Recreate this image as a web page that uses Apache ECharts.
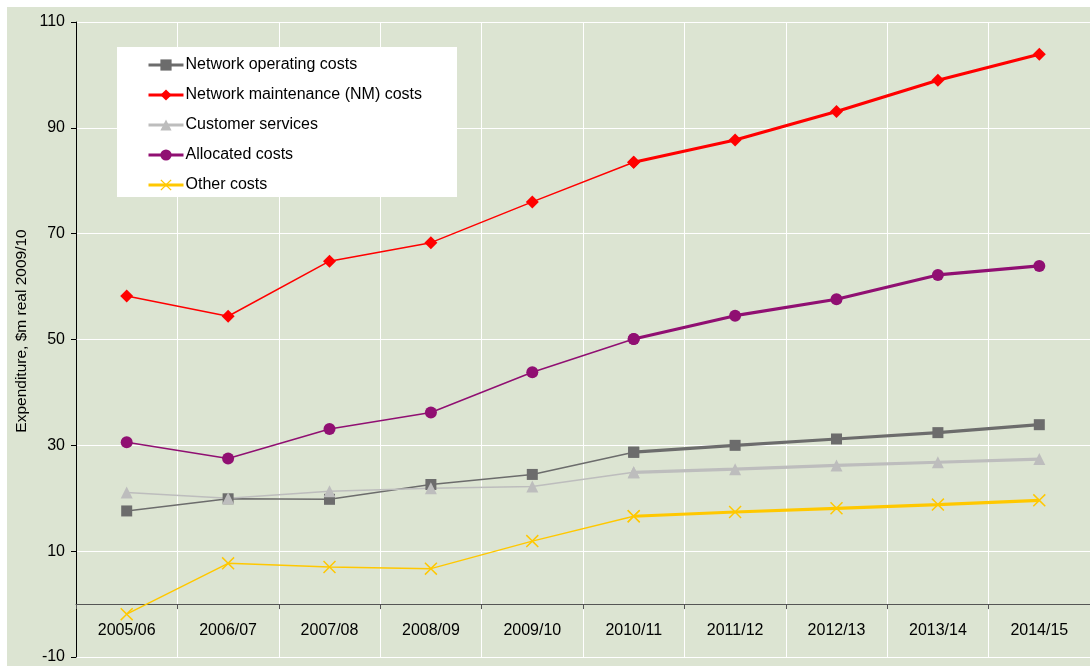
<!DOCTYPE html>
<html>
<head>
<meta charset="utf-8">
<script src="https://cdn.jsdelivr.net/npm/echarts@6/dist/echarts.min.js"></script>
<style>
  html, body { margin: 0; padding: 0; background: #ffffff; }
  #chart { position: absolute; left: 7px; top: 7px; width: 1083px; height: 659px; background: #dce4d2; }
</style>
</head>
<body>
<div id="chart"></div>
<script>
// Financial years on the category axis
const years = ['2005/06', '2006/07', '2007/08', '2008/09', '2009/10',
               '2010/11', '2011/12', '2012/13', '2013/14', '2014/15'];

// Expenditure, $m real 2009/10
const networkOperating   = [17.6, 19.9, 19.8, 22.6, 24.5, 28.7, 30.0, 31.2, 32.4, 33.9];
const networkMaintenance = [58.2, 54.4, 64.8, 68.3, 76.0, 83.5, 87.7, 93.1, 99.0, 103.9];
const customerServices   = [21.1, 20.0, 21.3, 21.9, 22.2, 24.9, 25.5, 26.2, 26.8, 27.4];
const allocatedCosts     = [30.6, 27.5, 33.1, 36.2, 43.8, 50.1, 54.5, 57.6, 62.2, 63.9];
const otherCosts         = [-1.9, 7.7, 7.0, 6.7, 11.9, 16.6, 17.4, 18.1, 18.8, 19.6];

// Y axis scale
const yMin = -10, yMax = 110, yStep = 20;

// Index of the first forecast year; actuals are drawn thin, forecasts thick
const splitIdx = 5;

const crossPath = 'path://M0,8L8,0L50,42L92,0L100,8L58,50L100,92L92,100L50,58L8,100L0,92L42,50Z';

const seriesDefs = [
  { name: 'Network operating costs', data: networkOperating, color: '#6c6c6c', symbol: 'rect', size: 11 },
  { name: 'Network maintenance (NM) costs', data: networkMaintenance, color: '#ff0000', symbol: 'diamond', size: 13 },
  { name: 'Customer services', data: customerServices, color: '#bdbdbd', symbol: 'triangle', size: 12 },
  { name: 'Allocated costs', data: allocatedCosts, color: '#900f72', symbol: 'circle', size: 12 },
  { name: 'Other costs', data: otherCosts, color: '#ffc800', symbol: crossPath, size: 13 }
];

function part(arr, from, to) {
  return arr.map((v, i) => (i >= from && i <= to) ? v : null);
}

const series = [];
seriesDefs.forEach(d => {
  // forecast segment (thick)
  series.push({
    name: d.name, type: 'line', data: part(d.data, splitIdx, d.data.length - 1),
    symbol: d.symbol, symbolSize: d.size, showSymbol: true,
    lineStyle: { color: d.color, width: 3.2 },
    itemStyle: { color: d.color },
    emphasis: { disabled: true }, animation: false, connectNulls: false
  });
  // actuals segment (thin)
  series.push({
    name: d.name, type: 'line', data: part(d.data, 0, splitIdx),
    symbol: d.symbol, symbolSize: d.size, showSymbol: true,
    lineStyle: { color: d.color, width: 1.5 },
    itemStyle: { color: d.color },
    emphasis: { disabled: true }, animation: false, connectNulls: false
  });
});

const chart = echarts.init(document.getElementById('chart'), null, { renderer: 'canvas' });
chart.setOption({
  backgroundColor: 'transparent',
  animation: false,
  textStyle: { fontFamily: 'Liberation Sans, Arial, sans-serif' },
  grid: { left: 69, top: 15, right: 0, bottom: 9, containLabel: false, outerBoundsMode: 'none' },
  graphic: [
    {
      type: 'rect', z: 1, left: 110, top: 40,
      shape: { width: 340, height: 150 },
      style: { fill: '#ffffff' }
    },
    {
      type: 'text', z: 5, x: 15, y: 324, rotation: Math.PI / 2,
      style: {
        text: 'Expenditure, $m real 2009/10',
        fontSize: 15.5, fontFamily: 'Liberation Sans, Arial, sans-serif',
        fill: '#000000', align: 'center', verticalAlign: 'middle'
      }
    }
  ],
  legend: {
    orient: 'vertical', left: 140, top: 50, padding: 0,
    itemWidth: 35, itemHeight: 14, itemGap: 14,
    data: seriesDefs.map(d => d.name),
    lineStyle: { width: 3 },
    textStyle: { fontSize: 16, color: '#000000', padding: [0, 0, 0, -3] },
    selectedMode: false
  },
  xAxis: {
    type: 'category', data: years, boundaryGap: true,
    axisLine: { onZero: true, lineStyle: { color: '#555555', width: 1 } },
    axisTick: { show: true, length: 5, lineStyle: { color: '#555555' } },
    axisLabel: { fontSize: 16, color: '#000000', margin: -34 },
    splitLine: { show: true, lineStyle: { color: '#ffffff', width: 1 } }
  },
  yAxis: {
    type: 'value', min: yMin, max: yMax, interval: yStep,
    axisLine: { show: true, onZero: false, lineStyle: { color: '#000000', width: 1 } },
    axisTick: { show: true, length: 5, lineStyle: { color: '#000000' } },
    axisLabel: { fontSize: 16, color: '#000000', margin: 11 },
    splitLine: { show: true, lineStyle: { color: '#ffffff', width: 1 } }
  },
  series: series
});
</script>
</body>
</html>
